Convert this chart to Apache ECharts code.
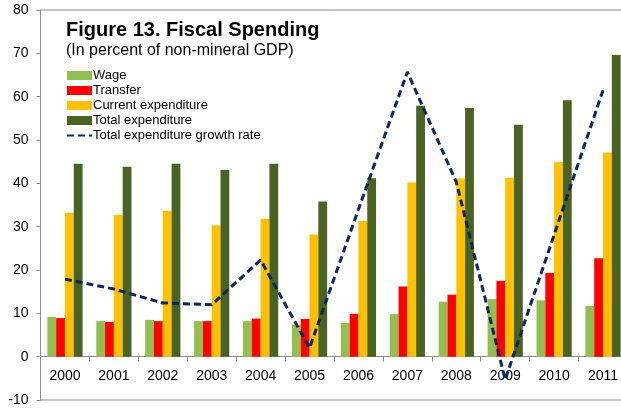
<!DOCTYPE html>
<html>
<head>
<meta charset="utf-8">
<script src="https://cdn.jsdelivr.net/npm/echarts@6/dist/echarts.min.js"></script>
<style>
  html, body { margin: 0; padding: 0; background: #fff; }
  #chart { width: 621px; height: 410px; }
</style>
</head>
<body>
<div id="chart"></div>
<script>
// Fiscal spending, in percent of non-mineral GDP
const years = ['2000','2001','2002','2003','2004','2005','2006','2007','2008','2009','2010','2011'];
const wage = [9.2, 8.2, 8.5, 8.2, 8.2, 7.4, 7.8, 9.8, 12.7, 13.3, 13.0, 11.7];
const transfer = [8.9, 8.0, 8.2, 8.2, 8.8, 8.7, 9.9, 16.2, 14.3, 17.5, 19.3, 22.7];
const currentExp = [33.2, 32.7, 33.7, 30.3, 31.8, 28.2, 31.3, 40.2, 41.1, 41.3, 44.9, 47.1];
const totalExp = [44.5, 43.8, 44.5, 43.1, 44.5, 35.8, 41.2, 57.9, 57.4, 53.5, 59.2, 69.6];
const growthRate = [17.9, 15.6, 12.4, 12.0, 22.3, 2.0, 34.0, 65.7, 40.3, -5.3, 28.1, 61.5];

const Y_MIN = -10, Y_MAX = 80;
const GRID = { left: 40.5, top: 10, width: 587, height: 390 };
// the category axis sits on the zero line: shift it up from the grid bottom
const zeroOffset = -GRID.height * (0 - Y_MIN) / (Y_MAX - Y_MIN);

const FONT = '"Liberation Sans", Arial, sans-serif';
const chart = echarts.init(document.getElementById('chart'), null, { renderer: 'canvas' });

function bar(name, data, color) {
  return {
    name, type: 'bar', data,
    barWidth: 8.8, barGap: '0%',
    itemStyle: { color },
    z: 2
  };
}

chart.setOption({
  animation: false,
  textStyle: { fontFamily: FONT },
  title: [
    { text: 'Figure 13. Fiscal Spending', left: 61, top: 15,
      textStyle: { fontFamily: FONT, fontSize: 20, fontWeight: 'bold', color: '#000' } },
    { text: '(In percent of non-mineral GDP)', left: 61, top: 38,
      textStyle: { fontFamily: FONT, fontSize: 16, fontWeight: 'normal', color: '#000' } }
  ],
  legend: {
    orient: 'vertical', left: 61, top: 64,
    itemWidth: 25, itemHeight: 9, itemGap: 2,
    textStyle: { fontFamily: FONT, fontSize: 13, color: '#000', padding: [0, 0, 0, -4] },
    data: [
      { name: 'Wage', icon: 'rect' },
      { name: 'Transfer', icon: 'rect' },
      { name: 'Current expenditure', icon: 'rect' },
      { name: 'Total expenditure', icon: 'rect' },
      { name: 'Total expenditure growth rate',
        itemStyle: { color: 'transparent', borderWidth: 0, opacity: 0 } }
    ]
  },
  grid: {
    show: true, left: GRID.left, top: GRID.top, width: GRID.width, height: GRID.height,
    borderColor: '#8c8c8c', borderWidth: 1, backgroundColor: 'transparent',
    containLabel: false, outerBoundsMode: 'none'
  },
  xAxis: {
    type: 'category', data: years, position: 'bottom', offset: zeroOffset,
    axisLine: { onZero: false, lineStyle: { color: '#8c8c8c', width: 1 } },
    axisTick: { show: true, interval: 0, length: 5, lineStyle: { color: '#8c8c8c' } },
    axisLabel: { interval: 0, margin: 12, fontSize: 14, color: '#000', fontFamily: FONT }
  },
  yAxis: {
    type: 'value', min: Y_MIN, max: Y_MAX, interval: 10,
    axisLine: { show: true, lineStyle: { color: '#8c8c8c', width: 1 } },
    axisTick: { show: true, length: 4, lineStyle: { color: '#8c8c8c' } },
    axisLabel: { margin: 12, fontSize: 14, color: '#000', fontFamily: FONT },
    splitLine: { show: false }
  },
  series: [
    bar('Wage', wage, '#92C050'),
    bar('Transfer', transfer, '#FF0000'),
    bar('Current expenditure', currentExp, '#FFC000'),
    bar('Total expenditure', totalExp, '#4A6323'),
    {
      name: 'Total expenditure growth rate', type: 'line', data: growthRate,
      symbol: 'none', z: 5,
      lineStyle: { color: '#0D2462', width: 3, type: [7, 4] },
      itemStyle: { color: '#0D2462' }
    }
  ]
});
</script>
</body>
</html>
